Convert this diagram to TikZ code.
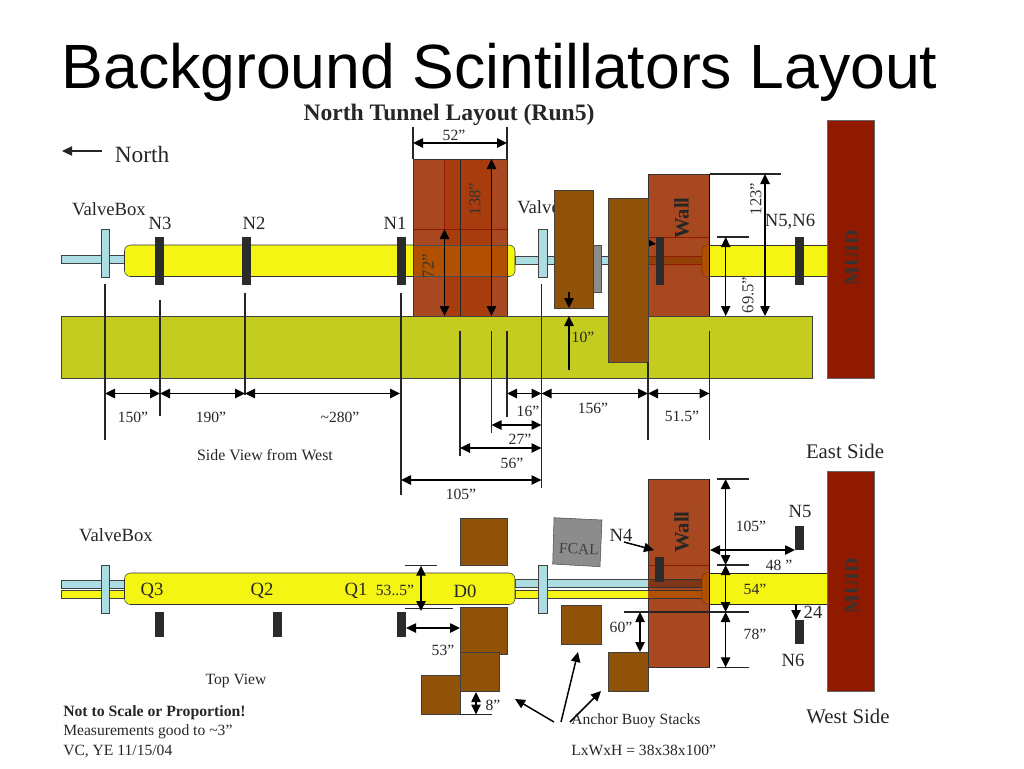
\documentclass[tikz,border=0pt]{standalone}
\usepackage{fontspec}
\setmainfont{Liberation Serif}
\newfontfamily\titlefont{Liberation Sans}
\usetikzlibrary{arrows.meta}
\definecolor{pipeyellow}{HTML}{F5F514}
\definecolor{groundolive}{HTML}{C4CC20}
\definecolor{wallred}{HTML}{A84820}
\definecolor{walldark}{HTML}{A83C0C}
\definecolor{overlap}{HTML}{B05000}
\definecolor{stackbrown}{HTML}{8F5208}
\definecolor{barblack}{HTML}{2B2B2B}
\definecolor{muidred}{HTML}{8F1A00}
\definecolor{pipeblue}{HTML}{ABDDE3}
\definecolor{fcalgray}{HTML}{8C8C8C}
\tikzset{
  lbl/.style={font=\fontsize{11.7}{13}\selectfont, text=black!85, inner sep=0pt},
  namelbl/.style={font=\fontsize{14}{16}\selectfont, text=black!85, inner sep=0pt},
  sidelbl/.style={font=\fontsize{15.6}{18}\selectfont, text=black!85, inner sep=0pt},
  boldlbl/.style={font=\bfseries\fontsize{15.5}{17}\selectfont, text=black!85, inner sep=0pt, rotate=90},
  dimlbl/.style={font=\fontsize{12.5}{14}\selectfont, text=black!80, inner sep=0pt, rotate=90},
  dim/.style={line width=1.1pt, <->},
  pointer/.style={line width=1.1pt, ->},
  stack/.style={draw=black!75, fill=stackbrown},
  pipe/.style={draw=black!75, fill=pipeblue},
  body/.style={draw=black!80, fill=pipeyellow, rounded corners=4.5},
  wallbox/.style={draw=black!80, fill=wallred},
  thinline/.style={line width=0.8pt, black!85}
}
\begin{document}
\begin{tikzpicture}[x=0.75pt, y=-0.75pt, >={Stealth[length=7.5pt,width=7pt,inset=0pt]}]
  \useasboundingbox (0,0) rectangle (1024,768);

  \node[font=\titlefont\fontsize{46.9}{50}\selectfont, inner sep=0pt] (title) at (499.5,72) {Background Scintillators Layout};
  \node[font=\bfseries\fontsize{17.7}{19}\selectfont, text=black!85, inner sep=0pt] (sidetitle) at (449,115) {North Tunnel Layout (Run5)};

  % side view
  \draw[thinline, ->] (102,151) -- (62,151);
  \node[font=\fontsize{17.5}{19}\selectfont, text=black!85, inner sep=0pt] (north) at (142,155) {North};
  \node[namelbl] (valvetop) at (109,209) {ValveBox};
  \node[namelbl, anchor=west] (valvemid) at (517,207) {ValveBox};

  \draw[pipe] (61,255) rectangle (125,263);
  \draw[pipe] (101,229) rectangle (109,277);
  \draw[body] (124.5,245) rectangle (515,276.5);
  \draw[pipe] (515,256) rectangle (650,264);
  \draw[pipe] (538,229) rectangle (547,277);
  \foreach \x in {155,241.5,397,795} {
    \fill[barblack] (\x,237) rectangle +(9,48);
  }
  \node[namelbl] (sideN3) at (160,223) {N3};
  \node[namelbl] (sideN2) at (254,223) {N2};
  \node[namelbl] (sideN1) at (395,223) {N1};
  \node[namelbl] (sideN56) at (790,222) {N5,N6};

  % D0 column
  \draw[wallbox] (413,159) rectangle (507,316);
  \fill[walldark] (444.5,159) rectangle (491.5,316);
  \fill[overlap] (413,245) rectangle (507,276.5);
  \draw[muidred] (444.5,159) -- (444.5,316);
  \draw[muidred, semithick] (413,229) -- (507,229);
  \draw[black!70] (413,245) -- (507,245) (413,276.5) -- (507,276.5);
  \draw[black!85] (460,159) -- (460,316);
  \draw[black!80] (413,159) rectangle (507,316);

  \fill[fcalgray, draw=black!70] (593,245) rectangle (601.5,292);
  \draw[stack] (554,190) rectangle (593.7,308);

  % wall
  \draw[wallbox] (648,174) rectangle (709.5,316);
  \draw[muidred] (648,237) -- (709.5,237);
  \fill[overlap!80!black, opacity=.8] (648,256) rectangle (703,264);
  \draw[muidred] (648,256) -- (703,256) (648,264) -- (703,264);
  \draw[draw=overlap!70!black, fill=overlap, rounded corners=4.5] (702,245) rectangle (716,276.5);
  \fill[pipeyellow] (709.5,245.5) rectangle (827,276);
  \draw[black!80] (709.5,245) -- (827,245) (709.5,276.5) -- (827,276.5);
  \draw (709.5,174) -- (709.5,316);
  \fill[barblack] (655.7,237) rectangle +(8.3,48);
  \draw[pointer] (630,241) -- (656,244);
  \fill[barblack] (795,237) rectangle +(9,48);
  \node[boldlbl] (sidewall) at (681.5,218) {Wall};

  % ground
  \draw[draw=black!75, fill=groundolive] (61,316) rectangle (812,378);
  \draw[stack] (608.7,198) rectangle (648,362);
  \draw[draw=black!60, fill=muidred] (827,120) rectangle (874,378);
  \node[boldlbl, font=\bfseries\fontsize{15}{17}\selectfont, text=black!80] (sidemuid) at (852,258) {MUID};

  % side view dimensions
  \draw[thinline] (413,127) -- (413,159) (507,127) -- (507,159);
  \draw[dim] (413,143) -- (507,143);
  \node[lbl] (d52) at (454,135) {52”};
  \draw[dim] (444.5,229) -- (444.5,316);
  \node[dimlbl] (d72) at (428,266) {72”};
  \draw[dim] (491.5,159) -- (491.5,316);
  \node[dimlbl] (d138) at (475,199) {138”};
  \draw[pointer] (569,292) -- (569,308);
  \draw[pointer] (569,370) -- (569,316);
  \node[lbl] (d10) at (583,337) {10”};
  \draw[thinline] (709.5,174) -- (781,174);
  \draw[dim] (765,174) -- (765,316);
  \node[dimlbl] (d123) at (756,199) {123”};
  \draw[thinline] (717,237) -- (749,237);
  \draw[dim] (725.7,237) -- (725.7,316);
  \node[dimlbl] (d695) at (748,295) {69.5”};

  \draw[thinline] (105,284) -- (105,440);
  \draw[thinline] (160,300) -- (160,416);
  \draw[thinline] (245,293) -- (245,395);
  \draw[thinline] (401,293) -- (401,495);
  \draw[thinline] (541.5,284) -- (541.5,488);
  \draw[thinline] (460,331) -- (460,456);
  \draw[thinline] (491.5,331) -- (491.5,433);
  \draw[thinline] (507,331) -- (507,417);
  \draw[thinline] (648,362) -- (648,440);
  \draw[thinline] (709.5,331) -- (709.5,440);
  \foreach \a/\b in {105/160,160/245,245/400,507/541.5,541.5/648,648/709.5} {
    \draw[dim] (\a,393.5) -- (\b,393.5);
  }
  \draw[dim] (491.5,425) -- (541.5,425);
  \draw[dim] (460,448) -- (541.5,448);
  \draw[dim] (401,480) -- (541.5,480);
  \node[lbl] (d150) at (133,417) {150”};
  \node[lbl] (d190) at (211,417) {190”};
  \node[lbl] (d280) at (340,417) {\textasciitilde280”};
  \node[lbl] (d16) at (528,411) {16”};
  \node[lbl] (d156) at (593,408) {156”};
  \node[lbl] (d515) at (682,416) {51.5”};
  \node[lbl] (d27) at (520,439) {27”};
  \node[lbl] (d56) at (512,463) {56”};
  \node[lbl] (d105) at (461,494) {105”};
  \node[lbl, font=\fontsize{11.9}{14}\selectfont] (sideview) at (265,455) {Side View from West};
  \node[sidelbl] (east) at (845,451) {East Side};

  % top view
  \node[namelbl] (valvelow) at (116,535) {ValveBox};
  \draw[pipe] (61,580) rectangle (125,588);
  \draw[draw=black!75, fill=pipeyellow] (61,590) rectangle (125,598);
  \draw[pipe] (515,579.5) rectangle (650,587.5);
  \draw[draw=black!75, fill=pipeyellow] (515,590) rectangle (650,598);
  \draw[pipe] (101,565) rectangle (109,613);
  \draw[pipe] (538,565) rectangle (547,613);
  \draw[body] (124.5,573) rectangle (515,604.5);
  \foreach \x in {155,273,397} {
    \fill[barblack] (\x,612) rectangle +(9,25);
  }
  \node[namelbl] (lowQ3) at (152,591) {Q3};
  \node[namelbl] (lowQ2) at (262,591) {Q2};
  \node[namelbl] (lowQ1) at (356,591) {Q1};
  \node[lbl] (d535) at (395,590) {53..5”};
  \node[namelbl] (lowD0) at (465,591) {D0};

  \draw[stack] (460,518) rectangle (507,565.7);
  \draw[stack] (460,607) rectangle (507,654);
  \draw[stack] (460,652) rectangle (499.5,691.7);
  \draw[stack] (421,675) rectangle (460,714.5);
  \draw[stack] (561.7,605) rectangle (601.3,644.5);
  \draw[stack] (608.7,652) rectangle (648,691.7);
  \draw[draw=black!70, fill=fcalgray] (554,517.7) -- (602,520) -- (600,566.7) -- (552.7,564) -- cycle;
  \node[lbl, text=black!75, rotate=-2] (fcal) at (579,549) {FCAL};

  \draw[wallbox] (648,479) rectangle (709.5,667.3);
  \fill[wallred!75!black] (648,580) rectangle (703,588);
  \fill[overlap] (648,590) rectangle (703,598);
  \draw[muidred] (648,565) -- (709.5,565);
  \draw[black!80] (648,579.5) -- (703,579.5) (648,587.5) -- (703,587.5) (648,590) -- (703,590) (648,598) -- (703,598);
  \draw[draw=overlap!70!black, fill=overlap, rounded corners=4.5] (702,573) rectangle (716,604);
  \fill[pipeyellow] (709.5,573.5) rectangle (827,603.5);
  \draw[black!85] (709.5,573) -- (827,573) (709.5,604) -- (827,604);
  \draw (709.5,479) -- (709.5,667.3);
  \fill[barblack] (655.3,557) rectangle +(8.7,24.6);
  \node[boldlbl] (lowwall) at (681.5,532) {Wall};

  \draw[draw=black!60, fill=muidred] (827,471) rectangle (874.5,691);
  \node[boldlbl, font=\bfseries\fontsize{15}{17}\selectfont, text=black!80] (lowmuid) at (852,586) {MUID};
  \fill[barblack] (795,526) rectangle +(9,24);
  \fill[barblack] (795,620) rectangle +(9,24);

  % top view dimensions
  \draw[thinline] (717,479) -- (749,479) (717,565) -- (749,565) (624,612) -- (749,612) (717,667.3) -- (749,667.3);
  \draw[dim] (725.6,479) -- (725.6,565);
  \draw[dim] (725.6,565) -- (725.6,612);
  \draw[dim] (725.6,612) -- (725.6,667.3);
  \draw[dim] (710,550) -- (795,550);
  \draw[pointer] (796,604) -- (796,620);
  \draw[dim] (640,612) -- (640,652);
  \draw[thinline] (405,565.7) -- (437,565.7) (405,608.7) -- (453,608.7);
  \draw[dim] (421,565.7) -- (421,611);
  \draw[dim] (406,628) -- (460,628);
  \draw[thinline] (460,714.5) -- (492,714.5);
  \draw[dim] (476,692) -- (476,714.5);
  \draw[pointer] (624,542) -- (654,550);
  \draw[pointer] (554,722) -- (515,699);
  \draw[pointer] (561,722) -- (578,652);
  \draw[pointer] (570,722) -- (601,691);

  \node[namelbl] (lowN5) at (800,511) {N5};
  \node[namelbl] (lowN4) at (621,535) {N4};
  \node[namelbl] (lowN6) at (793,660) {N6};
  \node[lbl] (d105b) at (751,526) {105”};
  \node[lbl] (d48) at (779,565) {48 ”};
  \node[lbl] (d54) at (755,589) {54”};
  \node[namelbl] (d24) at (813,612) {24};
  \node[lbl] (d78) at (755,634) {78”};
  \node[lbl] (d60) at (621,627) {60”};
  \node[lbl] (d53) at (443,650) {53”};
  \node[lbl] (d8) at (493,705) {8”};

  \node[lbl, anchor=west] (buoy) at (571,721) {Anchor Buoy Stacks};
  \node[lbl, anchor=west] (buoydim) at (571,750) {LxWxH = 38x38x100”};
  \node[lbl] (topview) at (236,681) {Top View};
  \node[sidelbl] (west) at (848,716) {West Side};
  \node[lbl, anchor=west, font=\bfseries\fontsize{11.8}{13}\selectfont] (note1) at (63,713) {Not to Scale or Proportion!};
  \node[lbl, anchor=west] (note2) at (63,732) {Measurements good to \textasciitilde3”};
  \node[lbl, anchor=west] (note3) at (63,751) {VC, YE 11/15/04};
\end{tikzpicture}
\end{document}
